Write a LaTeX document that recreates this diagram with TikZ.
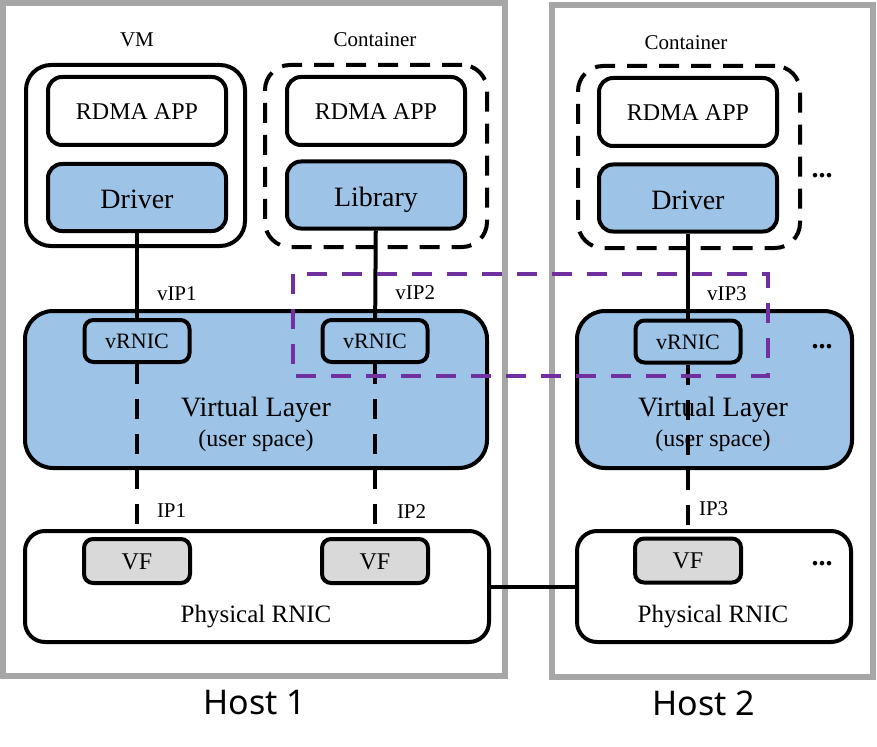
\documentclass[tikz,border=0pt]{standalone}
\usepackage{fontspec}
\setmainfont{Liberation Serif}
\newfontfamily\hostfont{Noto Sans}
\definecolor{layerblue}{HTML}{9DC3E6}
\definecolor{vfgray}{HTML}{D9D9D9}
\definecolor{framegray}{HTML}{A6A6A6}
\definecolor{groupviolet}{HTML}{7030A0}
\tikzset{
    hostframe/.style={draw=framegray, line width=6pt, inner sep=0pt},
    hostlabel/.style={font=\hostfont\fontsize{34}{40}\selectfont},
    vmbox/.style={draw, line width=4pt, rounded corners=25pt, inner sep=0pt},
    ctbox/.style={vmbox, dash pattern=on 20pt off 12pt},
    appbox/.style={draw, line width=4pt, rounded corners=14pt, fill=white, text height=18pt, text depth=0pt,
        minimum width=178pt, minimum height=68pt, font=\fontsize{24}{28}\selectfont},
    drvbox/.style={appbox, fill=layerblue, minimum height=67pt, text height=22.5pt, font=\fontsize{28}{32}\selectfont},
    layerbox/.style={draw, line width=4pt, rounded corners=28pt, fill=layerblue, minimum height=157pt},
    nicbox/.style={draw, line width=4pt, rounded corners=20pt, fill=white, minimum height=111pt},
    vrnic/.style={draw, line width=4pt, rounded corners=9pt, minimum width=105pt, minimum height=42pt,
        inner sep=0pt, text height=15pt, text depth=0pt, font=\fontsize{22}{26}\selectfont},
    vfbox/.style={vrnic, fill=vfgray, minimum width=106pt, minimum height=44pt, text height=16pt,
        font=\fontsize{24}{28}\selectfont},
    grouplabel/.style={font=\fontsize{21}{24}\selectfont},
    iplabel/.style={font=\fontsize{21}{24}\selectfont, inner sep=0pt, anchor=west},
    more/.style={font=\bfseries\fontsize{28}{30}\selectfont},
    link/.style={line width=4pt},
    vlink/.style={line width=4pt, dash pattern=on 20pt off 15pt},
}
\begin{document}
\begin{tikzpicture}[x=1pt, y=-1pt]
    \useasboundingbox (0,0) rectangle (877,746);

    % hosts
    \node[hostframe, minimum width=502pt, minimum height=673pt] (host1) at (254,339.5) {};
    \node[hostframe, minimum width=321pt, minimum height=672pt] (host2) at (712.5,341) {};
    \node[hostlabel] (h1lab) at (255,703) {Host 1};
    \node[hostlabel] (h2lab) at (704,703) {Host 2};

    % VM and containers
    \node[vmbox, minimum width=219pt, minimum height=181pt] (vm) at (135.5,155.5) {};
    \node[ctbox, minimum width=222pt, minimum height=182pt] (ct1) at (376,156) {};
    \node[ctbox, minimum width=222pt, minimum height=182pt] (ct2) at (689,157) {};
    \node[grouplabel] (vmlab) at (137,40) {VM};
    \node[grouplabel] (ct1lab) at (375,40) {Container};
    \node[grouplabel] (ct2lab) at (686,43) {Container};

    \node[appbox] (app1) at (137,111) {RDMA APP};
    \node[drvbox] (drv1) at (137,197.5) {Driver};
    \node[appbox] (app2) at (376,111) {RDMA APP};
    \node[drvbox] (lib2) at (376,195) {Library};
    \node[appbox] (app3) at (688,112) {RDMA APP};
    \node[drvbox] (drv3) at (688,198) {Driver};
    \node[more] (dots1) at (822,176) {...};

    % virtual layers
    \node[layerbox, minimum width=462pt] (vl1) at (256,389.5) {};
    \node[layerbox, minimum width=275pt] (vl2) at (714.5,389.5) {};
    \node[align=center, font=\fontsize{28}{31}\selectfont] (vl1txt) at (256,424)
        {Virtual Layer\\[-1pt]{\fontsize{24}{28}\selectfont (user space)}};
    \node[align=center, font=\fontsize{28}{31}\selectfont] (vl2txt) at (713,424)
        {Virtual Layer\\[-1pt]{\fontsize{24}{28}\selectfont (user space)}};
    \node[more] (dots2) at (822,347) {...};

    \node[vrnic] (vr1) at (137,341) {vRNIC};
    \node[vrnic] (vr2) at (375,341) {vRNIC};
    \node[vrnic] (vr3) at (688,341.5) {vRNIC};

    % physical RNICs
    \node[nicbox, minimum width=464pt] (nic1) at (257,586.5) {};
    \node[nicbox, minimum width=274pt] (nic2) at (714,586.5) {};
    \node[font=\fontsize{25}{28}\selectfont] (nic1txt) at (256,617) {Physical RNIC};
    \node[font=\fontsize{25}{28}\selectfont] (nic2txt) at (713,617) {Physical RNIC};
    \node[more] (dots3) at (822,564) {...};

    \node[vfbox] (vf1) at (137,561) {VF};
    \node[vfbox] (vf2) at (375,561) {VF};
    \node[vfbox] (vf3) at (688,560.5) {VF};

    % links
    \draw[link] (drv1) -- (vr1) node[iplabel, pos=.71, xshift=18pt] {vIP1};
    \draw[link] (lib2) -- (vr2) node[iplabel, pos=.71, xshift=18pt] {vIP2};
    \draw[link] (drv3) -- (vr3) node[iplabel, pos=.71, xshift=17pt] {vIP3};
    \draw[vlink] (vr1) -- (vf1) node[iplabel, pos=.85, xshift=18pt] {IP1};
    \draw[vlink] (vr2) -- (vf2) node[iplabel, pos=.85, xshift=20pt] {IP2};
    \draw[vlink] (vr3) -- (vf3) node[iplabel, pos=.84, xshift=9pt] {IP3};
    \draw[link] (nic1) -- (nic2);

    % shared group
    \draw[groupviolet, line width=4pt, dash pattern=on 20pt off 15pt] (293,274) rectangle (768,376);
\end{tikzpicture}
\end{document}
